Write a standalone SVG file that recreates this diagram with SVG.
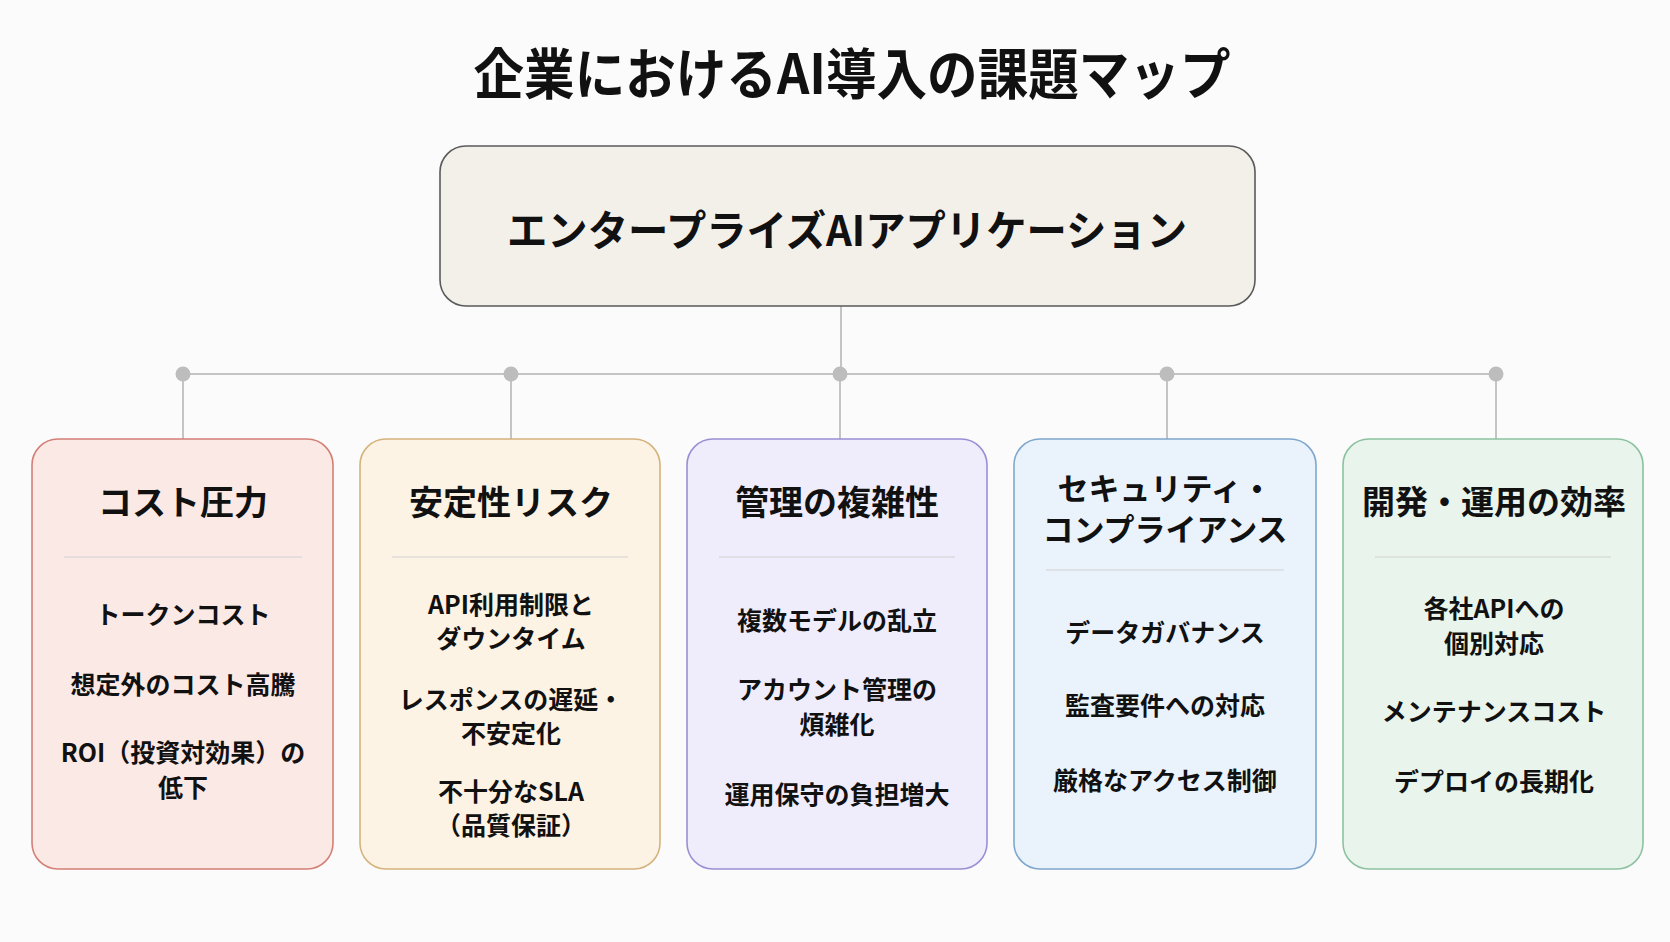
<svg xmlns="http://www.w3.org/2000/svg" width="1670" height="942" viewBox="0 0 1670 942">
<style>
text{font-family:"Noto Sans CJK JP","Noto Sans",sans-serif;font-weight:700;fill:#111;text-anchor:middle;dominant-baseline:central}
.title{font-size:55px}
.root{font-size:42px}
.h{font-size:34px}
.it{font-size:25px}
.conn{stroke:#c4c4c4;stroke-width:2;fill:none}
.dot{fill:#bdbdbd}
.sep{stroke:#d2d2d2;stroke-width:1.2}
.card{stroke-width:1.6}
</style>
<rect width="1670" height="942" fill="#fbfbfb"/>
<text class="title" x="852" y="70" textLength="757" lengthAdjust="spacingAndGlyphs">企業におけるAI導入の課題マップ</text>
<g id="connectors">
<line class="conn" x1="841" y1="306" x2="841" y2="374"/>
<line class="conn" x1="183" y1="374" x2="1496" y2="374"/>
<line class="conn" x1="183" y1="374" x2="183" y2="439"/>
<line class="conn" x1="511" y1="374" x2="511" y2="439"/>
<line class="conn" x1="840" y1="374" x2="840" y2="439"/>
<line class="conn" x1="1167" y1="374" x2="1167" y2="439"/>
<line class="conn" x1="1496" y1="374" x2="1496" y2="439"/>
<circle class="dot" cx="183" cy="374" r="7.5"/>
<circle class="dot" cx="511" cy="374" r="7.5"/>
<circle class="dot" cx="840" cy="374" r="7.5"/>
<circle class="dot" cx="1167" cy="374" r="7.5"/>
<circle class="dot" cx="1496" cy="374" r="7.5"/>
</g>
<g id="root">
<rect x="440" y="146" width="815" height="160" rx="26" fill="#f3f0ea" stroke="#5a5a5a" stroke-width="1.6"/>
<text class="root" x="847" y="227" textLength="680" lengthAdjust="spacingAndGlyphs">エンタープライズAIアプリケーション</text>
</g>
<g id="cost">
<rect class="card" x="32" y="439" width="301" height="430" rx="26" fill="#fbe9e6" stroke="#d47f76"/>
<text class="h" x="183" y="500">コスト圧力</text>
<line class="sep" x1="64" y1="557" x2="302" y2="557"/>
<text class="it" x="183" y="613">トークンコスト</text>
<text class="it" x="183" y="683">想定外のコスト高騰</text>
<text class="it" x="183" y="751">ROI（投資対効果）の</text>
<text class="it" x="183" y="786">低下</text>
</g>
<g id="stability">
<rect class="card" x="360" y="439" width="300" height="430" rx="26" fill="#fcf3e4" stroke="#d4b37c"/>
<text class="h" x="511" y="500">安定性リスク</text>
<line class="sep" x1="392" y1="557" x2="628" y2="557"/>
<text class="it" x="511" y="603">API利用制限と</text>
<text class="it" x="511" y="637">ダウンタイム</text>
<text class="it" x="511" y="698">レスポンスの遅延・</text>
<text class="it" x="511" y="732">不安定化</text>
<text class="it" x="511" y="790">不十分なSLA</text>
<text class="it" x="511" y="824">（品質保証）</text>
</g>
<g id="management">
<rect class="card" x="687" y="439" width="300" height="430" rx="26" fill="#efedfb" stroke="#9a8fd4"/>
<text class="h" x="837" y="500">管理の複雑性</text>
<line class="sep" x1="719" y1="557" x2="955" y2="557"/>
<text class="it" x="837" y="619">複数モデルの乱立</text>
<text class="it" x="837" y="688">アカウント管理の</text>
<text class="it" x="837" y="723">煩雑化</text>
<text class="it" x="837" y="793">運用保守の負担増大</text>
</g>
<g id="security">
<rect class="card" x="1014" y="439" width="302" height="430" rx="26" fill="#eaf3fb" stroke="#7fa7cd"/>
<text class="h" x="1165" y="486" style="font-size:31px">セキュリティ・</text>
<text class="h" x="1165" y="527" style="font-size:31px">コンプライアンス</text>
<line class="sep" x1="1046" y1="570" x2="1284" y2="570"/>
<text class="it" x="1165" y="631">データガバナンス</text>
<text class="it" x="1165" y="704">監査要件への対応</text>
<text class="it" x="1165" y="779">厳格なアクセス制御</text>
</g>
<g id="efficiency">
<rect class="card" x="1343" y="439" width="300" height="430" rx="26" fill="#e9f4ec" stroke="#8cc2a0"/>
<text class="h" x="1494" y="500" style="font-size:33px">開発・運用の効率</text>
<line class="sep" x1="1375" y1="557" x2="1611" y2="557"/>
<text class="it" x="1494" y="607">各社APIへの</text>
<text class="it" x="1494" y="642">個別対応</text>
<text class="it" x="1494" y="710">メンテナンスコスト</text>
<text class="it" x="1494" y="780">デプロイの長期化</text>
</g>
</svg>
